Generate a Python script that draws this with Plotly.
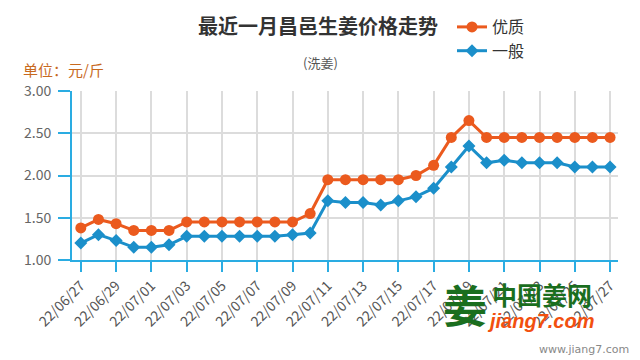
import plotly.graph_objects as go

dates = ["22/06/27", "22/06/28", "22/06/29", "22/06/30", "22/07/01", "22/07/02", "22/07/03",
         "22/07/04", "22/07/05", "22/07/06", "22/07/07", "22/07/08", "22/07/09", "22/07/10",
         "22/07/11", "22/07/12", "22/07/13", "22/07/14", "22/07/15", "22/07/16", "22/07/17",
         "22/07/18", "22/07/19", "22/07/20", "22/07/21", "22/07/22", "22/07/23", "22/07/24",
         "22/07/25", "22/07/26", "22/07/27"]
youzhi = [1.38, 1.48, 1.43, 1.35, 1.35, 1.35, 1.45, 1.45, 1.45, 1.45, 1.45, 1.45, 1.45, 1.55,
          1.95, 1.95, 1.95, 1.95, 1.95, 2.00, 2.12, 2.45, 2.65, 2.45, 2.45, 2.45, 2.45, 2.45,
          2.45, 2.45, 2.45]
yiban = [1.20, 1.30, 1.23, 1.15, 1.15, 1.18, 1.28, 1.28, 1.28, 1.28, 1.28, 1.28, 1.30, 1.32,
         1.70, 1.68, 1.68, 1.65, 1.70, 1.75, 1.85, 2.10, 2.35, 2.15, 2.18, 2.15, 2.15, 2.15,
         2.10, 2.10, 2.10]
tick_labels = dates[::2]
y_ticks = [1.0, 1.5, 2.0, 2.5, 3.0]

orange = "#eb5a1e"
blue = "#1b8fca"
axis_blue = "#2aace2"

W, H = 640, 360
L, R, T, B = 72, 22, 91, 100
PW, PH = W - L - R, H - T - B


def px(x):
    return (x - L) / PW


def py(y):
    return (H - B - y) / PH


fig = go.Figure()
fig.add_trace(go.Scatter(x=dates, y=youzhi, name="优质", mode="lines+markers",
                         line=dict(color=orange, width=3),
                         marker=dict(symbol="circle", size=11, color=orange)))
fig.add_trace(go.Scatter(x=dates, y=yiban, name="一般", mode="lines+markers",
                         line=dict(color=blue, width=3),
                         marker=dict(symbol="diamond", size=10, color=blue)))

fig.update_layout(
    width=W, height=H,
    margin=dict(l=L, r=R, t=T, b=B, autoexpand=False),
    paper_bgcolor="white", plot_bgcolor="white",
    font=dict(family="Noto Sans CJK SC, sans-serif", color="#555"),
    showlegend=True,
    legend=dict(x=px(452), y=py(10), xanchor="left", yanchor="top", orientation="v",
                font=dict(size=16, color="#333"), itemwidth=30,
                tracegroupgap=0, bgcolor="rgba(0,0,0,0)"),
    xaxis=dict(type="category", categoryorder="array", categoryarray=dates,
               range=[-0.5, 30.45], tickvals=tick_labels, ticktext=tick_labels,
               tickangle=-45, tickfont=dict(size=14, color="#555"),
               showgrid=True, gridcolor="#dcdcdc", gridwidth=1.5,
               showline=True, linecolor=axis_blue, linewidth=2,
               ticks="outside", ticklen=10, tickcolor=axis_blue, tickwidth=1.5,
               zeroline=False),
    yaxis=dict(range=[1.0, 3.0], tickvals=y_ticks, tickformat=".2f",
               tickfont=dict(size=14, color="#666"), ticklabelstandoff=4,
               showgrid=True, gridcolor="#dcdcdc", gridwidth=1.5,
               showline=True, linecolor=axis_blue, linewidth=2,
               ticks="outside", ticklen=12, tickcolor=axis_blue, tickwidth=1.5,
               zeroline=False),
)

annotations = [
    dict(text="<b>最近一月昌邑生姜价格走势</b>", x=318, y=25,
         font=dict(size=20, color="#333")),
    dict(text="(洗姜)", x=320, y=62, font=dict(size=13, color="#555")),
    dict(text="单位：元/斤", x=63, y=69, font=dict(size=15, color="#c8691e")),
    dict(text="<b>姜</b>", x=465, y=304, font=dict(size=44, color="#1a6e1e")),
    dict(text="<b>中国姜网</b>", x=542, y=294, font=dict(size=25, color="#1a6e1e")),
    dict(text="<b><i>jiang7.com</i></b>", x=540, y=321,
         font=dict(size=20, color="#f2500f", family="Liberation Sans, Arial")),
    dict(text="www.jiang7.com", x=584, y=349,
         font=dict(size=11, color="#888", family="DejaVu Sans")),
]
for a in annotations:
    a["x"] = px(a["x"])
    a["y"] = py(a["y"])
    fig.add_annotation(xref="paper", yref="paper", showarrow=False,
                       xanchor="center", yanchor="middle", **a)

fig.write_html("out.html", config={"displayModeBar": False},
               post_script="document.body.style.margin='0';")
